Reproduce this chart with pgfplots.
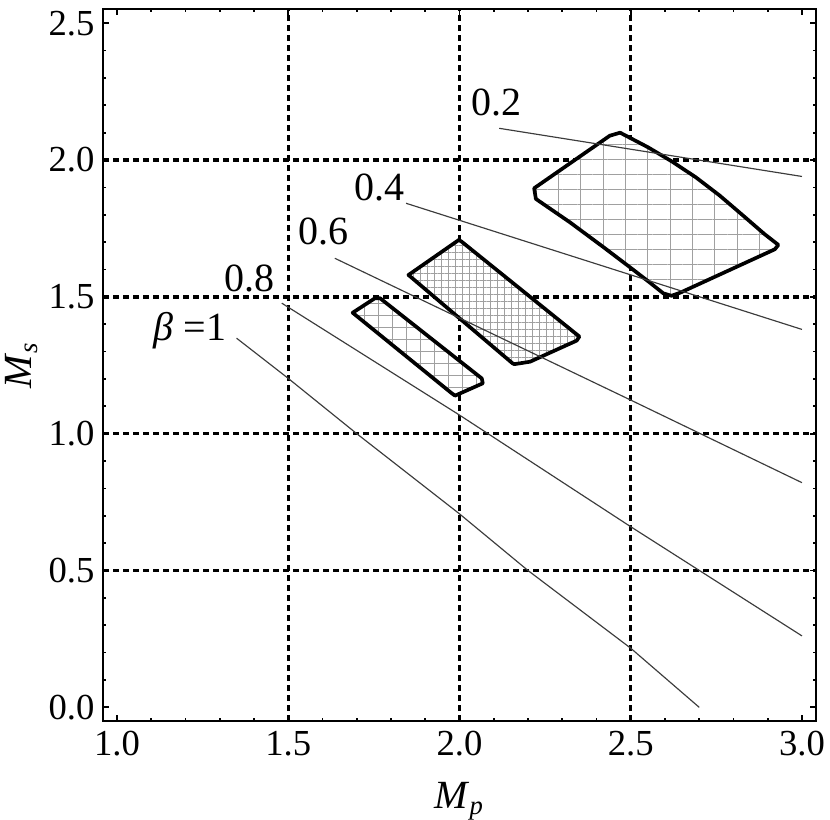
\documentclass[border=0pt]{standalone}
\usepackage{fontspec}
\setmainfont{Liberation Serif}
\usepackage{pgfplots}
\pgfplotsset{compat=1.18}
\usetikzlibrary{patterns.meta}

\definecolor{hatch}{RGB}{160,160,160}
\definecolor{betaline}{RGB}{60,60,60}

\begin{document}
\begin{tikzpicture}
\begin{axis}[
  name=main,
  scale only axis,
  width=213.9pt, height=213.6pt,
  xmin=0.959, xmax=3.041,
  ymin=-0.05, ymax=2.552,
  xtick={1,1.5,2,2.5,3},
  ytick={0,0.5,1,1.5,2,2.5},
  minor x tick num=4, minor y tick num=4,
  tick align=inside,
  major tick length=1.8pt, minor tick length=1pt,
  tick style={black, line width=0.5pt},
  axis line style={line width=0.6pt},
  /pgf/number format/assume math mode=true,
  /pgf/number format/fixed, /pgf/number format/fixed zerofill,
  /pgf/number format/precision=1,
  tick label style={font=\fontsize{11}{12}\selectfont, inner sep=0pt},
  x tick label style={yshift=-2.8pt},
  y tick label style={xshift=-2.4pt},
  extra x ticks={1.5,2,2.5}, extra y ticks={0.5,1,1.5,2},
  extra x tick labels={}, extra y tick labels={},
  extra tick style={grid=major, major tick length=0pt},
  grid style={black, line width=1pt, dash pattern=on 1.7pt off 1.3pt},
  xlabel={\textit{M}\textsubscript{\textit{p}}},
  ylabel={\textit{M}\textsubscript{\textit{s}}},
  label style={font=\fontsize{12}{13}\selectfont, inner sep=0pt},
  x label style={at={(axis description cs:0.5,-0.1124)}, anchor=center},
  y label style={at={(axis description cs:-0.1136,0.5)}, anchor=center},
  clip=false,
]

% large region
\addplot[draw=none, fill=white] coordinates {
  (2.218,1.897) (2.223,1.858) (2.323,1.772) (2.420,1.682) (2.498,1.608)
  (2.556,1.552) (2.595,1.513) (2.619,1.504) (2.644,1.515) (2.921,1.674)
  (2.931,1.690) (2.890,1.730) (2.830,1.795) (2.760,1.870) (2.690,1.937)
  (2.620,1.995) (2.550,2.047) (2.469,2.100) (2.439,2.089)} --cycle;
\addplot[draw=none, pattern={Lines[angle=0,distance=4.5pt,line width=0.3pt]}, pattern color=hatch] coordinates {
  (2.218,1.897) (2.223,1.858) (2.323,1.772) (2.420,1.682) (2.498,1.608)
  (2.556,1.552) (2.595,1.513) (2.619,1.504) (2.644,1.515) (2.921,1.674)
  (2.931,1.690) (2.890,1.730) (2.830,1.795) (2.760,1.870) (2.690,1.937)
  (2.620,1.995) (2.550,2.047) (2.469,2.100) (2.439,2.089)} --cycle;
\addplot[draw=none, pattern={Lines[angle=90,distance=6.7pt,line width=0.3pt]}, pattern color=hatch] coordinates {
  (2.218,1.897) (2.223,1.858) (2.323,1.772) (2.420,1.682) (2.498,1.608)
  (2.556,1.552) (2.595,1.513) (2.619,1.504) (2.644,1.515) (2.921,1.674)
  (2.931,1.690) (2.890,1.730) (2.830,1.795) (2.760,1.870) (2.690,1.937)
  (2.620,1.995) (2.550,2.047) (2.469,2.100) (2.439,2.089)} --cycle;
\addplot[black, line width=1.1pt, line join=round] coordinates {
  (2.218,1.897) (2.223,1.858) (2.323,1.772) (2.420,1.682) (2.498,1.608)
  (2.556,1.552) (2.595,1.513) (2.619,1.504) (2.644,1.515) (2.921,1.674)
  (2.931,1.690) (2.890,1.730) (2.830,1.795) (2.760,1.870) (2.690,1.937)
  (2.620,1.995) (2.550,2.047) (2.469,2.100) (2.439,2.089)} --cycle;

% medium region
\addplot[draw=none, fill=white] coordinates {
  (1.851,1.580) (1.998,1.708) (2.006,1.702) (2.350,1.355) (2.342,1.340)
  (2.206,1.263) (2.160,1.254) (2.155,1.257)} --cycle;
\addplot[draw=none, pattern={Lines[angle=0,distance=2.1pt,line width=0.3pt]}, pattern color=hatch] coordinates {
  (1.851,1.580) (1.998,1.708) (2.006,1.702) (2.350,1.355) (2.342,1.340)
  (2.206,1.263) (2.160,1.254) (2.155,1.257)} --cycle;
\addplot[draw=none, pattern={Lines[angle=90,distance=2.1pt,line width=0.3pt]}, pattern color=hatch] coordinates {
  (1.851,1.580) (1.998,1.708) (2.006,1.702) (2.350,1.355) (2.342,1.340)
  (2.206,1.263) (2.160,1.254) (2.155,1.257)} --cycle;
\addplot[black, line width=1.1pt, line join=round] coordinates {
  (1.851,1.580) (1.998,1.708) (2.006,1.702) (2.350,1.355) (2.342,1.340)
  (2.206,1.263) (2.160,1.254) (2.155,1.257)} --cycle;

% small region
\addplot[draw=none, fill=white] coordinates {
  (1.688,1.442) (1.753,1.495) (1.768,1.495) (2.065,1.202) (2.068,1.184)
  (1.987,1.139) (1.977,1.148)} --cycle;
\addplot[draw=none, pattern={Lines[angle=0,distance=3.6pt,line width=0.3pt]}, pattern color=hatch] coordinates {
  (1.688,1.442) (1.753,1.495) (1.768,1.495) (2.065,1.202) (2.068,1.184)
  (1.987,1.139) (1.977,1.148)} --cycle;
\addplot[draw=none, pattern={Lines[angle=90,distance=4.2pt,line width=0.3pt]}, pattern color=hatch] coordinates {
  (1.688,1.442) (1.753,1.495) (1.768,1.495) (2.065,1.202) (2.068,1.184)
  (1.987,1.139) (1.977,1.148)} --cycle;
\addplot[black, line width=1.1pt, line join=round] coordinates {
  (1.688,1.442) (1.753,1.495) (1.768,1.495) (2.065,1.202) (2.068,1.184)
  (1.987,1.139) (1.977,1.148)} --cycle;

% beta lines
\addplot[betaline, line width=0.35pt] coordinates {(1.349,1.349) (1.5,1.202) (1.7,1.0) (2.0,0.707) (2.2,0.5) (2.5,0.216) (2.700,0.0)};
\addplot[betaline, line width=0.35pt] coordinates {(1.481,1.477) (2.0,1.068) (2.5,0.660) (3.0,0.261)};
\addplot[betaline, line width=0.35pt] coordinates {(1.636,1.641) (2.498,1.124) (3.0,0.821)};
\addplot[betaline, line width=0.35pt] coordinates {(1.844,1.842) (3.0,1.381)};
\addplot[betaline, line width=0.35pt] coordinates {(2.116,2.116) (3.0,1.940)};

\node[font=\fontsize{12}{13}\selectfont] at (axis cs:2.109,2.209) {0.2};
\node[font=\fontsize{12}{13}\selectfont] at (axis cs:1.765,1.900) {0.4};
\node[font=\fontsize{12}{13}\selectfont] at (axis cs:1.603,1.739) {0.6};
\node[font=\fontsize{12}{13}\selectfont] at (axis cs:1.388,1.568) {0.8};
\node[font=\fontsize{12}{13}\selectfont] at (axis cs:1.213,1.375) {\textit{β} =1};
\end{axis}
\path (main.south west) ++(-30.9pt,-29.4pt);
\path (main.south west) ++(218.1pt,216.3pt);
\end{tikzpicture}
\end{document}
